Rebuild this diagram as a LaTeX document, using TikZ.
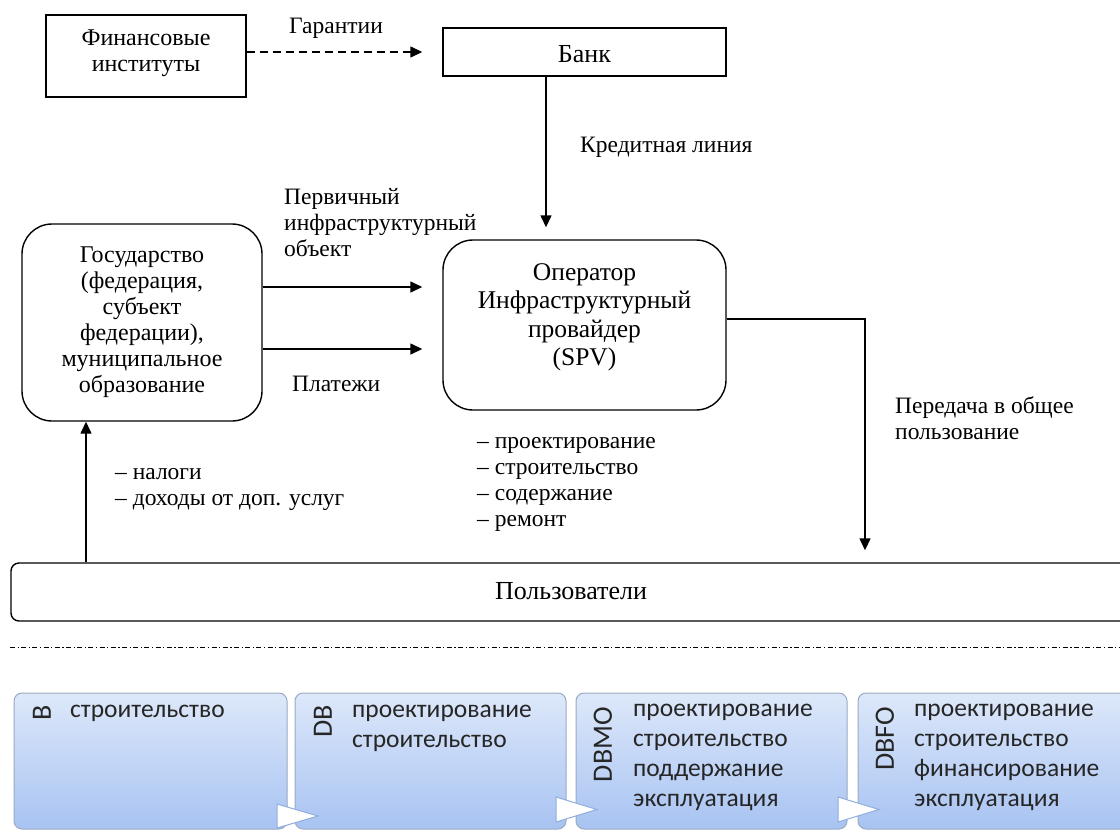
\documentclass[tikz,border=0pt]{standalone}
\usepackage{fontspec}
\setmainfont{Liberation Serif}
\newfontfamily\calf{Carlito}
\usetikzlibrary{arrows.meta}
\definecolor{stagetop}{HTML}{DDE8FA}
\definecolor{stagebot}{HTML}{A8C3F2}
\definecolor{stageedge}{HTML}{9AAAC2}
\definecolor{chevedge}{HTML}{8EAEDD}
\begin{document}
\begin{tikzpicture}[x=1pt,y=-1pt,
  box/.style={draw, line width=1.4pt, inner sep=0pt},
  rbox/.style={draw, line width=1.4pt, rounded corners=30pt, inner sep=0pt},
  txt/.style={align=center, font=\fontsize{24}{26}\selectfont, inner sep=0pt},
  lbl/.style={align=left, font=\fontsize{23.5}{26}\selectfont, inner sep=0pt, anchor=west},
  arr/.style={line width=1.4pt, -{Triangle[length=12pt,width=11pt]}},
  stage/.style={draw=stageedge, line width=1pt, rounded corners=8pt, top color=stagetop, bottom color=stagebot, minimum height=136pt, inner sep=0pt},
  stagelbl/.style={font=\calf\fontsize{28}{28}\selectfont, rotate=90, anchor=east, inner sep=0pt, text=black!85},
  stagetxt/.style={font=\calf\fontsize{25.5}{30}\selectfont, align=left, anchor=base west, inner sep=0pt, text=black!85},
  chev/.style={draw=chevedge, fill=white, line width=1pt}]
\useasboundingbox (0,0) rectangle (1120,831);

% boxes
\node[box, minimum width=200pt, minimum height=82pt] (fin) at (146,56) {};
\node[txt] (fint) at (146,53) {Финансовые\\институты};
\node[box, minimum width=283pt, minimum height=48pt] (bank) at (584.5,52) {};
\node[txt, font=\fontsize{26}{28}\selectfont] (bankt) at (584.5,54) {Банк};
\node[rbox, minimum width=240pt, minimum height=197pt] (gos) at (142,322.5) {};
\node[txt] (gost) at (142,322) {Государство\\(федерация,\\субъект\\федерации),\\муниципальное\\образование};
\node[rbox, minimum width=283pt, minimum height=170pt] (op) at (584.5,325) {};
\node[txt, font=\fontsize{25.5}{28.5}\selectfont] (opt) at (584.5,317.5) {Оператор\\Инфраструктурный\\провайдер\\(SPV)};
\node[box, rounded corners=8pt, minimum width=1119pt, minimum height=58pt] (users) at (570.5,592) {};
\node[txt, font=\fontsize{26}{28}\selectfont] (userst) at (571,591) {Пользователи};

% connectors
\draw[arr, dashed, dash pattern=on 8pt off 5pt] ([yshift=4pt]fin.east) -- ([xshift=-20pt]bank.west);
\draw[arr] ([xshift=-38.5pt]bank.south) -- ([xshift=-38.5pt,yshift=12pt]op.north);
\draw[arr] ([yshift=35.5pt]gos.east) -- ([xshift=-20pt,yshift=38pt]op.west);
\draw[arr] ([yshift=-26.5pt]gos.east) -- ([xshift=-20pt,yshift=-24pt]op.west);
\draw[arr] ([yshift=6pt]op.east) -| ([xshift=294.5pt,yshift=12pt]users.north);
\draw[arr] ([xshift=-484.5pt]users.north) -- ([xshift=-56pt]gos.south);

% labels
\node[lbl] (lgar) at (289,28) {Гарантии};
\node[lbl] (lkred) at (580,147) {Кредитная линия};
\node[lbl] (lperv) at (284,223) {Первичный\\инфраструктурный\\объект};
\node[lbl] (lplat) at (292,384) {Платежи};
\node[lbl] (lper) at (895,418) {Передача в общее\\пользование};
\node[lbl] (lnal) at (115,489) {– налоги\\– доходы от доп. услуг};
\node[lbl] (lop) at (477,484) {– проектирование\\– строительство\\– содержание\\– ремонт};

% separator
\draw[line width=1pt, black, dash pattern=on 5pt off 2.5pt on 1.2pt off 2.5pt] (10,647) -- (1120,647);

% stages
\node[stage, minimum width=273pt] (s1) at (150.5,761) {};
\node[stage, minimum width=271pt] (s2) at (430.5,761) {};
\node[stage, minimum width=271pt] (s3) at (711.5,761) {};
\node[stage, minimum width=272pt] (s4) at (994,761) {};

\draw[chev] (277,804) -- (318,816) -- (277,828) -- cycle;
\draw[chev] (556,797) -- (597,809.5) -- (556,822) -- cycle;
\draw[chev] (838,797) -- (879,809.5) -- (838,822) -- cycle;

\node[stagelbl] (l1) at (42,705) {B};
\node[stagelbl] (l2) at (323,705) {DB};
\node[stagelbl] (l3) at (603,707) {DBMO};
\node[stagelbl] (l4) at (885,707) {DBFO};

\node[stagetxt] (t1) at (70,717) {строительство};
\node[stagetxt] (t2) at (352,747) {проектирование\\строительство};
\node[stagetxt] (t3) at (633,806) {проектирование\\строительство\\поддержание\\эксплуатация};
\node[stagetxt] (t4) at (914,806) {проектирование\\строительство\\финансирование\\эксплуатация};
\end{tikzpicture}
\end{document}
